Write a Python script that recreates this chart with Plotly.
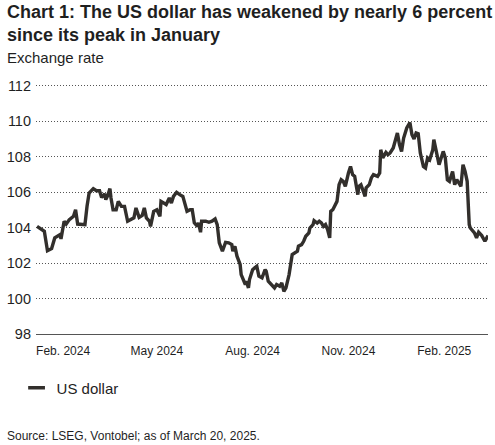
import plotly.graph_objects as go

# USD index
dates = [
    "2024-01-07", "2024-01-10", "2024-01-14", "2024-01-17", "2024-01-21", "2024-01-24",
    "2024-01-29", "2024-01-30", "2024-02-02", "2024-02-04", "2024-02-07", "2024-02-11",
    "2024-02-13", "2024-02-15", "2024-02-18", "2024-02-22", "2024-02-24", "2024-02-26",
    "2024-03-01", "2024-03-04", "2024-03-07", "2024-03-09", "2024-03-12", "2024-03-13",
    "2024-03-15", "2024-03-17", "2024-03-18", "2024-03-20", "2024-03-23", "2024-03-25",
    "2024-03-28", "2024-03-31", "2024-04-03", "2024-04-06", "2024-04-09", "2024-04-11",
    "2024-04-14", "2024-04-17", "2024-04-19", "2024-04-21", "2024-04-24", "2024-04-25",
    "2024-04-28", "2024-05-01", "2024-05-04", "2024-05-05", "2024-05-08", "2024-05-10",
    "2024-05-13", "2024-05-15", "2024-05-17", "2024-05-20", "2024-05-23", "2024-05-26",
    "2024-05-30", "2024-06-02", "2024-06-04", "2024-06-06", "2024-06-09", "2024-06-10",
    "2024-06-12", "2024-06-13", "2024-06-17", "2024-06-20", "2024-06-23", "2024-06-26",
    "2024-06-28", "2024-06-30", "2024-07-03", "2024-07-06", "2024-07-09", "2024-07-12",
    "2024-07-13", "2024-07-15", "2024-07-17", "2024-07-20", "2024-07-21", "2024-07-23",
    "2024-07-25", "2024-07-26", "2024-07-28", "2024-07-29", "2024-08-01", "2024-08-03",
    "2024-08-05", "2024-08-07", "2024-08-10", "2024-08-13", "2024-08-14", "2024-08-16",
    "2024-08-19", "2024-08-22", "2024-08-24", "2024-08-27", "2024-08-29", "2024-08-31",
    "2024-09-02", "2024-09-05", "2024-09-08", "2024-09-10", "2024-09-13", "2024-09-14",
    "2024-09-17", "2024-09-19", "2024-09-21", "2024-09-24", "2024-09-25", "2024-09-28",
    "2024-09-29", "2024-10-02", "2024-10-04", "2024-10-06", "2024-10-08", "2024-10-10",
    "2024-10-12", "2024-10-14", "2024-10-15", "2024-10-17", "2024-10-19", "2024-10-21",
    "2024-10-23", "2024-10-25", "2024-10-27", "2024-10-29", "2024-11-01", "2024-11-03",
    "2024-11-05", "2024-11-07", "2024-11-10", "2024-11-11", "2024-11-13", "2024-11-15",
    "2024-11-17", "2024-11-18", "2024-11-21", "2024-11-23", "2024-11-25", "2024-11-29",
    "2024-12-01", "2024-12-02", "2024-12-04", "2024-12-07", "2024-12-09", "2024-12-11",
    "2024-12-14", "2024-12-18", "2024-12-20", "2024-12-22", "2024-12-24", "2024-12-27",
    "2024-12-30", "2025-01-01", "2025-01-03", "2025-01-05", "2025-01-07", "2025-01-09",
    "2025-01-12", "2025-01-14", "2025-01-16", "2025-01-18", "2025-01-21", "2025-01-22",
    "2025-01-25", "2025-01-27", "2025-01-30", "2025-01-31", "2025-02-02", "2025-02-04",
    "2025-02-06", "2025-02-09", "2025-02-11", "2025-02-13", "2025-02-15", "2025-02-17",
    "2025-02-19", "2025-02-21", "2025-02-23", "2025-02-25", "2025-02-26", "2025-03-01",
    "2025-03-02", "2025-03-04", "2025-03-06", "2025-03-09", "2025-03-12", "2025-03-15",
]
usd = [
    104.07, 103.94, 103.79, 102.70, 102.82, 103.42,
    103.60, 103.36, 104.36, 104.20, 104.45, 104.64,
    105.01, 104.20, 104.17, 104.17, 105.20, 105.95,
    106.20, 106.08, 106.08, 105.70, 105.90, 105.58,
    105.82, 106.20, 105.67, 105.01, 105.01, 105.48,
    105.20, 105.20, 104.36, 104.45, 104.55, 105.11,
    104.58, 104.69, 105.11, 104.55, 104.36, 104.07,
    104.92, 105.01, 104.64, 105.48, 105.39, 105.30,
    105.67, 105.39, 105.76, 105.99, 105.86, 105.76,
    104.92, 105.01, 105.01, 104.27, 104.07, 104.27,
    103.74, 104.36, 104.36, 104.30, 104.36, 104.49,
    104.17, 103.14, 102.67, 103.17, 103.14, 103.04,
    102.67, 102.95, 102.39, 101.92, 101.35, 101.07,
    100.79, 100.98, 100.60, 101.07, 101.63, 101.73,
    101.82, 101.26, 101.17, 101.63, 101.54, 100.98,
    100.79, 100.60, 100.79, 100.69, 100.88, 100.41,
    100.60, 101.35, 102.48, 102.57, 102.67, 102.95,
    103.04, 103.23, 103.51, 103.70, 103.98, 104.17,
    104.39, 104.26, 104.36, 104.27, 104.07, 104.17,
    103.89, 103.42, 104.92, 105.01, 105.30, 105.48,
    106.42, 106.70, 106.61, 106.33, 107.08, 107.45,
    106.99, 106.89, 105.86, 106.33, 106.42, 106.14,
    105.76, 106.24, 106.42, 106.80, 106.99, 106.89,
    107.08, 108.39, 107.93, 108.24, 108.11, 108.21,
    108.49, 109.34, 108.68, 108.30, 109.05, 109.62,
    109.93, 109.24, 109.00, 109.34, 109.30, 108.21,
    107.45, 107.36, 107.93, 107.83, 108.39, 108.96,
    108.02, 107.55, 108.11, 108.30, 107.93, 106.70,
    106.61, 107.17, 106.42, 106.70, 106.52, 106.33,
    107.55, 107.17, 106.61, 104.17, 103.98, 103.79,
    103.70, 103.42, 103.74, 103.55, 103.23, 103.55,
]

tick_dates = ["2024-02-01", "2024-05-01", "2024-08-01", "2024-11-01", "2025-02-01"]
tick_labels = ["Feb. 2024", "May 2024", "Aug. 2024", "Nov. 2024", "Feb. 2025"]
y_ticks = [98, 100, 102, 104, 106, 108, 110, 112]

line_color = "#322f2c"
text_color = "#1f1f1f"
font = "Liberation Sans, Arial, sans-serif"

fig = go.Figure()

fig.add_trace(go.Scatter(
    x=dates, y=usd, mode="lines",
    line=dict(color=line_color, width=3.4),
    showlegend=False, hoverinfo="x+y",
))

# short thick legend key
fig.add_trace(go.Scatter(
    x=[None], y=[None], mode="markers", name="US dollar",
    marker=dict(symbol="line-ew", size=12, line=dict(width=3.5, color=line_color)),
))

fig.update_layout(
    width=495, height=445,
    margin=dict(l=33, r=7, t=84, b=111),
    paper_bgcolor="white", plot_bgcolor="white",
    font=dict(family=font, color=text_color),
    legend=dict(
        orientation="h", x=-0.043, xanchor="left", y=-0.216, yanchor="middle",
        font=dict(size=15, color=text_color), itemwidth=30,
        bgcolor="rgba(0,0,0,0)",
    ),
    annotations=[
        dict(text="<b>Chart 1: The US dollar has weakened by nearly 6 percent<br>since its peak in January</b>",
             xref="paper", yref="paper", x=-0.068, y=1.336, xanchor="left", yanchor="top",
             align="left", showarrow=False,
             font=dict(size=18, color=text_color)),
        dict(text="Exchange rate", xref="paper", yref="paper", x=-0.068, y=1.104,
             xanchor="left", yanchor="middle", showarrow=False,
             font=dict(size=15, color=text_color)),
        dict(text="Source: LSEG, Vontobel; as of March 20, 2025.", xref="paper", yref="paper",
             x=-0.068, y=-0.408, xanchor="left", yanchor="middle", showarrow=False,
             font=dict(size=12, color=text_color)),
    ],
)

fig.update_xaxes(
    type="date", range=["2024-01-06", "2025-03-15"],
    tickvals=tick_dates, ticktext=tick_labels, ticks="",
    showgrid=False, zeroline=False,
    showline=True, linecolor="#555555", linewidth=1,
    tickfont=dict(size=12, color=text_color), ticklabelstandoff=6,
)
fig.update_yaxes(
    range=[98, 112.1], tickvals=y_ticks, ticks="",
    showgrid=True, gridcolor="#555555", gridwidth=1, griddash="1px,2px",
    zeroline=False, showline=False,
    tickfont=dict(size=14.5, color=text_color), ticklabelstandoff=4,
)

fig.write_html("out.html", config={"displayModeBar": False},
               post_script="document.body.style.margin='0px';")
